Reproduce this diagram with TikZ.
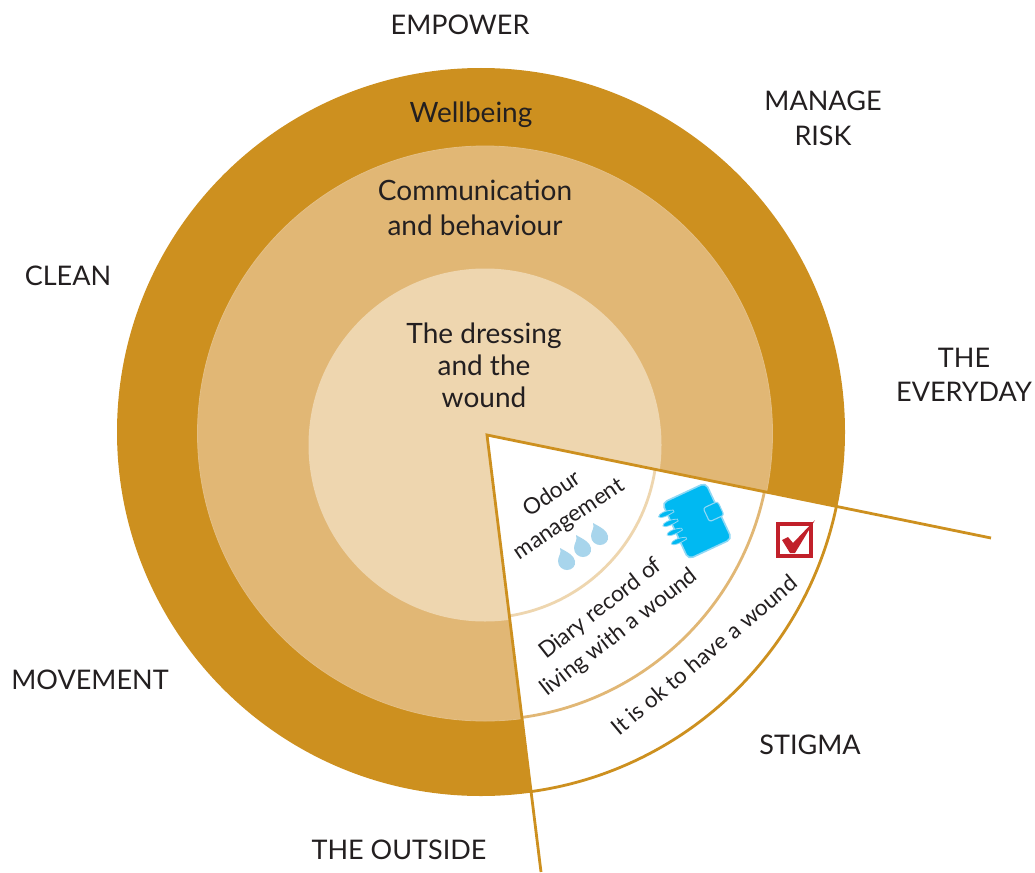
\documentclass[tikz,border=0pt]{standalone}
\usepackage{fontspec}
\setmainfont{Lato}
\definecolor{outergold}{HTML}{CD901F}
\definecolor{midgold}{HTML}{E1B775}
\definecolor{innergold}{HTML}{EED6AF}
\definecolor{diaryblue}{HTML}{00B9F2}
\definecolor{diaryrim}{HTML}{8FD8F5}
\definecolor{dropblue}{HTML}{A8D5EC}
\definecolor{tickred}{HTML}{C1202A}
\definecolor{inktext}{HTML}{231F20}
\tikzset{
    outerlbl/.style={font=\fontsize{27}{34.5}\selectfont,text=inktext,align=center,inner sep=0pt},
    ringlbl/.style={font=\fontsize{28}{34.5}\selectfont,text=inktext,align=center,inner sep=0pt},
    sectorlbl/.style={font=\fontsize{22.5}{30}\selectfont,text=inktext,align=center,inner sep=0pt},
    wedgeline/.style={draw=outergold,line width=2.8pt}
}
\begin{document}
\begin{tikzpicture}[x=1pt,y=-1pt]

            \useasboundingbox (0,0) rectangle (1035,872);

            \coordinate (apex) at (487,435);
            \coordinate (endright) at (991,538);
            \coordinate (endbottom) at (541,872);
            \coordinate (corner) at (991,872);

            % rings
            \fill[outergold] (481,432) circle [radius=364];
            \fill[midgold] (485,433.5) circle [radius=287.5];
            \draw[innergold!25!midgold,line width=0.8pt] (485,433.5) circle [radius=287.5];
            \fill[innergold] (485,445) circle [radius=176.5];

            % the cut out sector
            \fill[white] (apex) -- (endright) -- (corner) -- (endbottom) -- cycle;
            \begin{scope}
                \clip (apex) -- (endright) -- (corner) -- (endbottom) -- cycle;
                \draw[outergold,line width=2.8pt] (481,432) circle [radius=363];
                \draw[midgold,line width=2.8pt] (483,432.5) circle [radius=287.5];
                \draw[innergold,line width=2.8pt] (482,443) circle [radius=175];
            \end{scope}
            \draw[wedgeline] (endright) -- (apex) -- (endbottom);

            \path   (460,25)  node (empower) [outerlbl] {EMPOWER}
                    (823,118.5) node (managerisk) [outerlbl] {MANAGE\\RISK}
                    (964,375) node (everyday) [outerlbl] {THE\\EVERYDAY}
                    (68,276)  node (clean) [outerlbl] {CLEAN}
                    (90,680)  node (movement) [outerlbl] {MOVEMENT}
                    (399,850) node (outside) [outerlbl] {THE OUTSIDE}
                    (810,745) node (stigma) [outerlbl] {STIGMA}
                    (471,115) node (wellbeing) [ringlbl] {Wellbeing}
                    (475,208) node (communication) [ringlbl] {Communication\\and behaviour}
                    (484,365) node (dressing) [ringlbl] {The dressing\\[-2.5pt]and the\\[-2.5pt]wound};

            \path   (561,507) node (odour) [sectorlbl,rotate=34] {Odour\\management}
                    (610,621) node (diary) [sectorlbl,rotate=38] {Diary record of\\living with a wound}
                    (704,655) node (okwound) [sectorlbl,rotate=40] {It is ok to have a wound};

            % drops
            \foreach \dropx/\dropy in {567/562,583/549,600/537}
                \fill[dropblue,shift={(\dropx,\dropy)}] (-7,-14) .. controls (-5,-9) and (-9,-6) .. (-9,-1)
                    .. controls (-9,5) and (-4,8) .. (0,8) .. controls (5,8) and (9,4) .. (8,-1)
                    .. controls (7,-7) and (0,-10) .. (-7,-14) -- cycle;

            % diary
            \begin{scope}[shift={(697,521)},rotate=25]
                \draw[diaryrim,fill=diaryblue,line width=1.6pt,rounded corners=5pt] (-24,-31) rectangle (24,31);
                \draw[diaryrim,line width=1.1pt,fill=diaryblue,rounded corners=2.5pt] (11,-9) rectangle (27,6);
                \foreach \ringy in {-20,-10,0,10}
                    \draw[diaryrim,fill=diaryblue,line width=0.8pt] (-17,\ringy) .. controls (-24,\ringy-3) and (-32,\ringy-3) .. (-33,\ringy)
                        .. controls (-32,\ringy+3) and (-24,\ringy+3) .. (-17,\ringy+2) -- cycle;
            \end{scope}

            % tick box
            \draw[tickred,line width=3.4pt] (778,524) rectangle (811,556);
            \fill[tickred] (782,540) -- (788,537) -- (793,543) -- (815,520) -- (795,553) -- (790,553) -- cycle;

        \end{tikzpicture}
\end{document}
